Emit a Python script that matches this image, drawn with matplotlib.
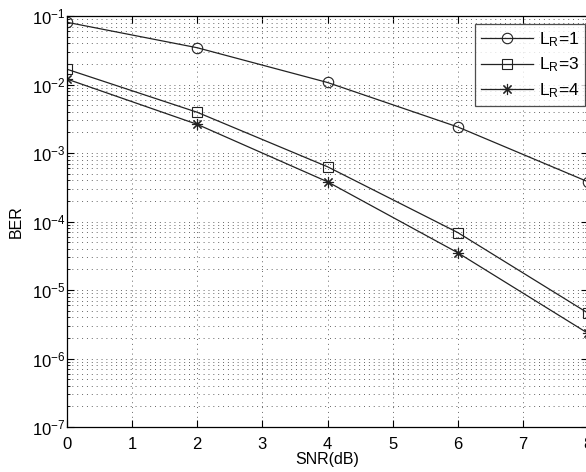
import numpy as np
import matplotlib
matplotlib.use('Agg')
import matplotlib.pyplot as plt

plt.rcParams['font.family'] = ['Liberation Sans', 'DejaVu Sans']
plt.rcParams['mathtext.fontset'] = 'custom'
plt.rcParams['mathtext.rm'] = 'Liberation Sans'
plt.rcParams['mathtext.it'] = 'Liberation Sans:italic'
plt.rcParams['mathtext.default'] = 'regular'

# data
snr = [0, 2, 4, 6, 8]
ber_lr1 = [0.081, 0.0344, 0.0107, 0.0024, 3.8e-4]
ber_lr3 = [0.0167, 3.93e-3, 6.3e-4, 6.9e-5, 4.6e-6]
ber_lr4 = [0.012, 2.62e-3, 3.8e-4, 3.5e-5, 2.33e-6]
labels = [r'L$_\mathrm{R}$=1', r'L$_\mathrm{R}$=3', r'L$_\mathrm{R}$=4']

W, H = 586, 472
fig = plt.figure(figsize=(W / 100, H / 100), dpi=100)
ax = fig.add_axes([67 / W, (H - 427) / H, 521 / W, 411 / H])

lc = '#222222'
ax.semilogy(snr, ber_lr1, '-', color=lc, lw=0.9, marker='o', ms=7.5,
            mfc='none', mec=lc, mew=0.8, label=labels[0])
ax.semilogy(snr, ber_lr3, '-', color=lc, lw=0.9, marker='s', ms=7,
            mfc='none', mec=lc, mew=0.8, label=labels[1])
ax.semilogy(snr, ber_lr4, '-', color=lc, lw=0.9, marker=(8, 2, 0), ms=8,
            mec=lc, mew=0.8, label=labels[2])

ax.set_xlim(0, 8)
ax.set_ylim(1e-7, 1e-1)
ax.set_xticks(range(9))
ax.set_yticks([10.0 ** k for k in range(-7, 0)])
ax.set_yticklabels([r'$10^{%d}$' % k for k in range(-7, 0)])

dots = (0, (1, 4))
ax.grid(True, which='major', ls=dots, color='#666666', lw=0.7)
ax.grid(True, which='minor', axis='y', ls=dots, color='#666666', lw=0.7)
ax.tick_params(which='both', direction='in', top=True, right=True, labelsize=12)
ax.tick_params(which='major', length=5)
ax.tick_params(axis='x', which='major', pad=7)
ax.tick_params(axis='y', which='major', pad=1)
ax.tick_params(which='minor', length=2.5)
for s in ax.spines.values():
    s.set_linewidth(0.9)

ax.set_xlabel('SNR(dB)', fontsize=11.5, labelpad=0)
ax.set_ylabel('BER', fontsize=11.5, labelpad=6)

leg = ax.legend(loc='upper right', bbox_to_anchor=(585 / W, (H - 24) / H),
                bbox_transform=fig.transFigure, fontsize=12.5, frameon=True,
                fancybox=False, edgecolor='#222222', handlelength=3.0,
                borderpad=0.35, labelspacing=0.4, handletextpad=0.3,
                borderaxespad=0)
leg.get_frame().set_linewidth(0.9)

fig.savefig('out.png', dpi=100)
